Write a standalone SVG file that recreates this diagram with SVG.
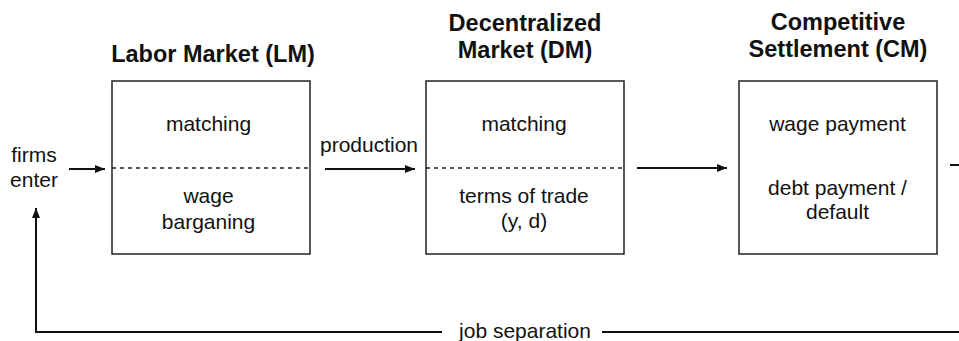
<svg xmlns="http://www.w3.org/2000/svg" width="959" height="341" viewBox="0 0 959 341">
<defs>
<style>
.box{fill:#fff;stroke:#222;stroke-width:1.5}
.div{stroke:#222;stroke-width:1.5;stroke-dasharray:4 4;fill:none}
.t{font-family:"Liberation Sans",Arial,sans-serif;font-size:21px;fill:#111;text-anchor:middle}
.h{font-family:"Liberation Sans",Arial,sans-serif;font-size:23.5px;font-weight:bold;fill:#111;text-anchor:middle}
.c{stroke:#111;stroke-width:2;fill:none}
</style>
<marker id="ah" markerWidth="10" markerHeight="8" refX="10" refY="4" orient="auto" markerUnits="userSpaceOnUse">
<path d="M0,0 L10,4 L0,8 Z" fill="#111"/>
</marker>
</defs>
<rect width="959" height="341" fill="#fff"/>
<g id="lm">
<text class="h" x="213" y="62">Labor Market (LM)</text>
<rect class="box" x="112" y="81" width="198" height="173"/>
<line class="div" x1="112" y1="168" x2="310" y2="168"/>
<text class="t" x="208.5" y="131">matching</text>
<text class="t" x="208.5" y="203">wage</text>
<text class="t" x="208.5" y="229">barganing</text>
</g>
<g id="dm">
<text class="h" x="525" y="31">Decentralized</text>
<text class="h" x="525" y="58">Market (DM)</text>
<rect class="box" x="426" y="81" width="198" height="173"/>
<line class="div" x1="426" y1="168" x2="624" y2="168"/>
<text class="t" x="524" y="131">matching</text>
<text class="t" x="524" y="203">terms of trade</text>
<text class="t" x="524" y="228">(y, d)</text>
</g>
<g id="cm">
<text class="h" x="838" y="30">Competitive</text>
<text class="h" x="838" y="57">Settlement (CM)</text>
<rect class="box" x="739" y="81" width="198" height="173"/>
<text class="t" x="837.5" y="131">wage payment</text>
<text class="t" x="837.5" y="195">debt payment /</text>
<text class="t" x="837.5" y="219">default</text>
</g>
<g id="firms">
<text class="t" x="34" y="162">firms</text>
<text class="t" x="34" y="187">enter</text>
</g>
<g id="connectors">
<line class="c" x1="69" y1="169" x2="105" y2="169" marker-end="url(#ah)"/>
<text class="t" x="369" y="152">production</text>
<line class="c" x1="325" y1="169" x2="415" y2="169" marker-end="url(#ah)"/>
<line class="c" x1="637" y1="168" x2="727" y2="168" marker-end="url(#ah)"/>
<line class="c" x1="950" y1="165" x2="959" y2="165"/>
<polyline class="c" points="442,332 36,332 36,208" marker-end="url(#ah)"/>
<text class="t" x="525" y="338">job separation</text>
<line class="c" x1="602" y1="332" x2="959" y2="332"/>
</g>
</svg>
